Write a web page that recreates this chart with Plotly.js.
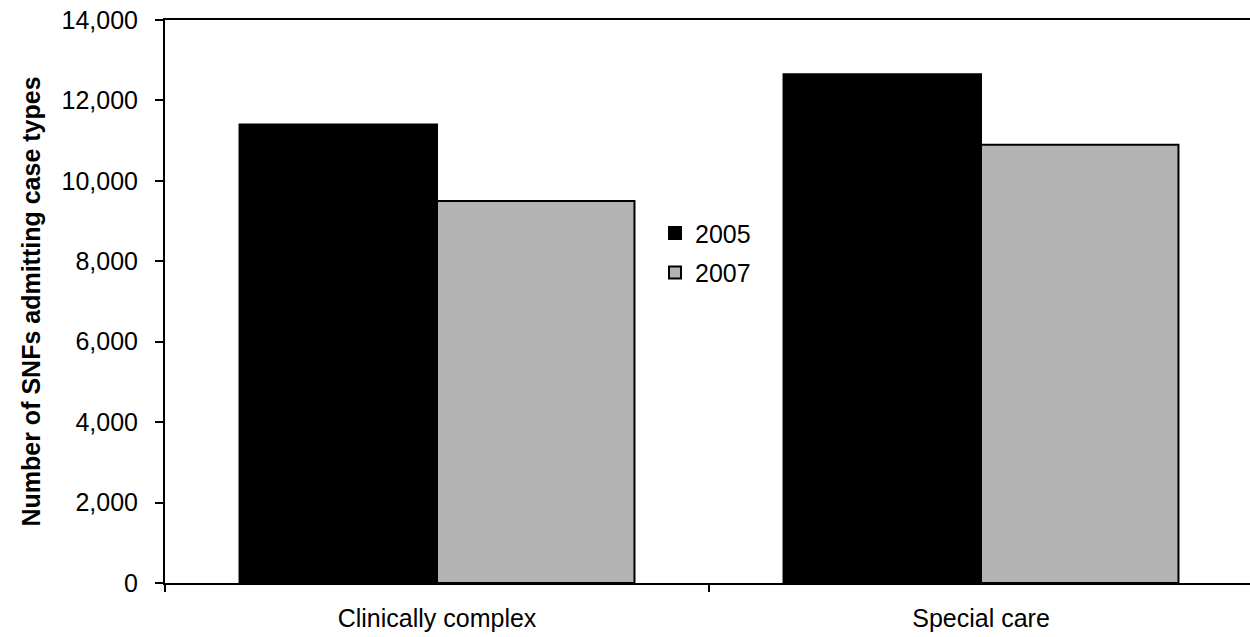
<!DOCTYPE html>
<html>
<head>
<meta charset="utf-8">
<script src="https://cdn.plot.ly/plotly-3.0.1.min.js"></script>
<style>
  html, body { margin: 0; padding: 0; background: #fff; overflow: hidden; }
  #chart { width: 1250px; height: 637px; }
</style>
</head>
<body>
<div id="chart"></div>
<script>
// Case types and number of SNFs admitting them, by year
const categories = ["Clinically complex", "Special care"];
const years = ["2005", "2007"];
const values2005 = [11400, 12650];
const values2007 = [9500, 10900];
const yTickVals = [0, 2000, 4000, 6000, 8000, 10000, 12000, 14000];
const yTickText = ["0", "2,000", "4,000", "6,000", "8,000", "10,000", "12,000", "14,000"];

const fontFamily = "'Liberation Sans', Arial, sans-serif";
const textSize = 25;

const traces = [
  {
    type: "bar",
    name: years[0],
    legendgroup: "a",
    x: categories,
    y: values2005,
    marker: { color: "#000000", line: { color: "#000000", width: 2 } },
    hoverinfo: "skip"
  },
  {
    type: "bar",
    name: years[1],
    legendgroup: "b",
    x: categories,
    y: values2007,
    marker: { color: "#b3b3b3", line: { color: "#000000", width: 2 } },
    hoverinfo: "skip"
  }
];

const layout = {
  width: 1250,
  height: 637,
  margin: { l: 165, r: 0, t: 20, b: 54 },
  paper_bgcolor: "#ffffff",
  plot_bgcolor: "#ffffff",
  font: { family: fontFamily, size: textSize, color: "#000000" },
  barmode: "group",
  bargap: 0.274,
  bargroupgap: 0,
  showlegend: true,
  legend: {
    x: 0.4516,
    y: 0.662,
    xanchor: "left",
    yanchor: "top",
    bgcolor: "rgba(0,0,0,0)",
    font: { family: fontFamily, size: textSize, color: "#000000" },
    itemwidth: 30,
    traceorder: "grouped",
    tracegroupgap: 4
  },
  xaxis: {
    type: "category",
    range: [-0.5, 1.4945],
    showline: true,
    linecolor: "#000000",
    linewidth: 2,
    mirror: true,
    ticks: "outside",
    tickson: "boundaries",
    ticklen: 7,
    tickwidth: 1.5,
    tickcolor: "#000000",
    ticklabelstandoff: 12,
    showgrid: false,
    zeroline: false,
    tickfont: { family: fontFamily, size: textSize, color: "#000000" }
  },
  yaxis: {
    range: [0, 14000],
    tickvals: yTickVals,
    ticktext: yTickText,
    showline: true,
    linecolor: "#000000",
    linewidth: 2,
    ticks: "outside",
    ticklen: 8,
    tickwidth: 2,
    tickcolor: "#000000",
    ticklabelstandoff: 12,
    showgrid: false,
    zeroline: false,
    tickfont: { family: fontFamily, size: textSize, color: "#000000" },
    title: {
      text: "<b>Number of SNFs admitting case types</b>",
      font: { family: fontFamily, size: textSize, color: "#000000" },
      standoff: 14
    }
  }
};

Plotly.newPlot("chart", traces, layout, { staticPlot: true, displayModeBar: false });
</script>
</body>
</html>
